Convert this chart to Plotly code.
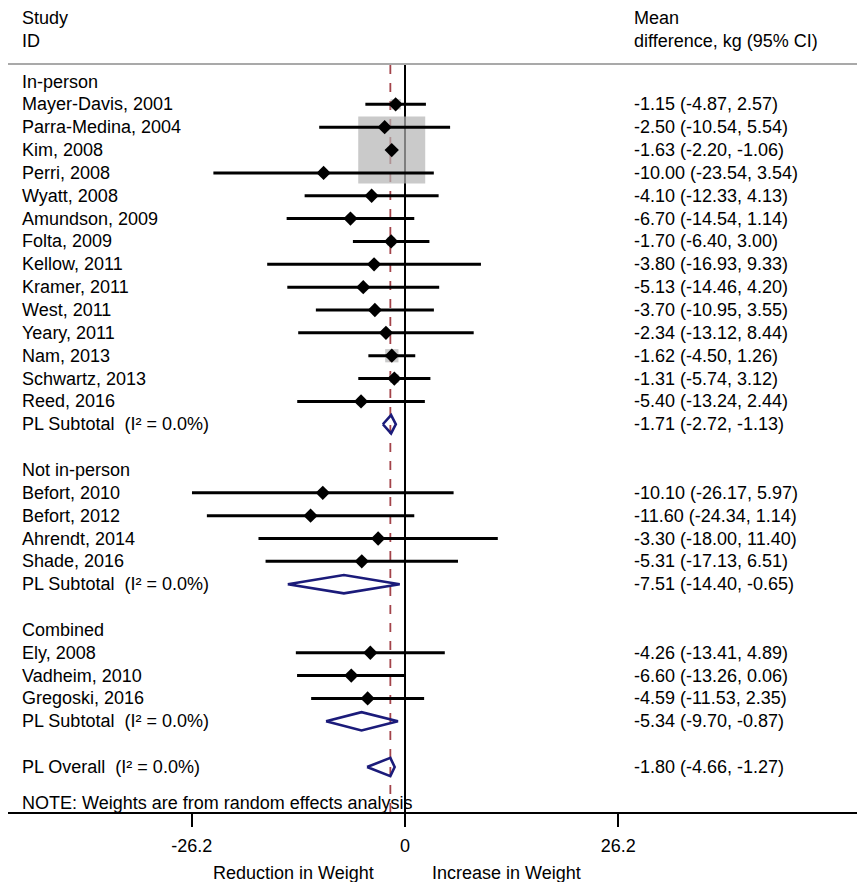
import numpy as np
import plotly.graph_objects as go

# ---------------- data ----------------
subgroup_names = ["In-person", "Not in-person", "Combined"]

in_person_studies = ["Mayer-Davis, 2001", "Parra-Medina, 2004", "Kim, 2008", "Perri, 2008",
                     "Wyatt, 2008", "Amundson, 2009", "Folta, 2009", "Kellow, 2011",
                     "Kramer, 2011", "West, 2011", "Yeary, 2011", "Nam, 2013",
                     "Schwartz, 2013", "Reed, 2016"]
in_person_md = [-1.15, -2.50, -1.63, -10.00, -4.10, -6.70, -1.70, -3.80, -5.13, -3.70, -2.34, -1.62, -1.31, -5.40]
in_person_lo = [-4.87, -10.54, -2.20, -23.54, -12.33, -14.54, -6.40, -16.93, -14.46, -10.95, -13.12, -4.50, -5.74, -13.24]
in_person_hi = [2.57, 5.54, -1.06, 3.54, 4.13, 1.14, 3.00, 9.33, 4.20, 3.55, 8.44, 1.26, 3.12, 2.44]
in_person_pooled = [-1.71, -2.72, -1.13]

not_in_person_studies = ["Befort, 2010", "Befort, 2012", "Ahrendt, 2014", "Shade, 2016"]
not_in_person_md = [-10.10, -11.60, -3.30, -5.31]
not_in_person_lo = [-26.17, -24.34, -18.00, -17.13]
not_in_person_hi = [5.97, 1.14, 11.40, 6.51]
not_in_person_pooled = [-7.51, -14.40, -0.65]

combined_studies = ["Ely, 2008", "Vadheim, 2010", "Gregoski, 2016"]
combined_md = [-4.26, -6.60, -4.59]
combined_lo = [-13.41, -13.26, -11.53]
combined_hi = [4.89, 0.06, 2.35]
combined_pooled = [-5.34, -9.70, -0.87]

overall_pooled = [-1.80, -4.66, -1.27]
i_squared = "0.0%"

tick_values = [-26.2, 0, 26.2]
tick_labels = ["-26.2", "0", "26.2"]

groups = [
    (subgroup_names[0], in_person_studies, in_person_md, in_person_lo, in_person_hi, in_person_pooled),
    (subgroup_names[1], not_in_person_studies, not_in_person_md, not_in_person_lo, not_in_person_hi, not_in_person_pooled),
    (subgroup_names[2], combined_studies, combined_md, combined_lo, combined_hi, combined_pooled),
]

# ---------------- geometry / style ----------------
# page body has an 8px default margin; figure is sized to fit inside it
OFF = 8
W, H = 865 - 2 * OFF, 890 - 2 * OFF
# plot area in page pixels
P_LEFT, P_RIGHT, P_TOP, P_BOT = 8, 857, 65, 812
ML, MR = P_LEFT - OFF, (W + OFF) - P_RIGHT
MT, MB = P_TOP - OFF, (H + OFF) - P_BOT
PX_PER_UNIT = 8.14
ZERO_PX = 405
ROW0_PX = 81.5
ROW_PX = 22.85
PLOT_W = P_RIGHT - P_LEFT
PLOT_H = P_BOT - P_TOP
x_range = [(P_LEFT - ZERO_PX) / PX_PER_UNIT, (P_RIGHT - ZERO_PX) / PX_PER_UNIT]
y_range = [(P_BOT - ROW0_PX) / ROW_PX, (P_TOP - ROW0_PX) / ROW_PX]

FONT = "Liberation Sans, Arial, sans-serif"
FS = 18
BOX_MAX_PX = 67
DIAMOND_H = 0.40
NAVY = "#1b1b7a"


def py(p):  # page pixel y -> paper y
    return (P_BOT - p) / PLOT_H


def px(p):  # page pixel x -> paper x
    return (p - P_LEFT) / PLOT_W


def fmt(e, l, h):
    return f"{e:.2f} ({l:.2f}, {h:.2f})"


# ---------------- build rows ----------------
label_rows = []
st_rows, st_md, st_lo, st_hi = [], [], [], []
pooled_rows = []
row = 0
for name, studies, md, lo, hi, pooled in groups:
    label_rows.append((row, name, ""))
    row += 1
    for s, e, l, h in zip(studies, md, lo, hi):
        label_rows.append((row, s, fmt(e, l, h)))
        st_rows.append(row); st_md.append(e); st_lo.append(l); st_hi.append(h)
        row += 1
    label_rows.append((row, f"PL Subtotal\u00a0 (I\u00b2 = {i_squared})", fmt(*pooled)))
    pooled_rows.append((row, *pooled))
    row += 2
label_rows.append((row, f"PL Overall\u00a0 (I\u00b2 = {i_squared})", fmt(*overall_pooled)))
pooled_rows.append((row, *overall_pooled))

# box sizes from inverse-variance weights (area proportional to weight)
se = (np.array(st_hi) - np.array(st_lo)) / 3.92
w = 1.0 / se ** 2
box_size = BOX_MAX_PX * np.sqrt(w / w.max())

fig = go.Figure()

fig.add_trace(go.Scatter(
    x=st_md, y=st_rows, mode="markers",
    marker=dict(symbol="square", size=box_size, color="#b3b3b3", line=dict(width=0)),
    hoverinfo="skip", showlegend=False))

cx, cy = [], []
for r, l, h in zip(st_rows, st_lo, st_hi):
    cx += [l, h, None]; cy += [r, r, None]
fig.add_trace(go.Scatter(x=cx, y=cy, mode="lines", line=dict(color="black", width=3),
                         hoverinfo="skip", showlegend=False))

fig.add_trace(go.Scatter(x=st_md, y=st_rows, mode="markers",
                         marker=dict(symbol="diamond", size=11, color="black"),
                         hoverinfo="skip", showlegend=False))

dx, dy = [], []
for r, e, l, h in pooled_rows:
    dx += [l, e, h, e, l, None]
    dy += [r, r - DIAMOND_H, r, r + DIAMOND_H, r, None]
fig.add_trace(go.Scatter(x=dx, y=dy, mode="lines", line=dict(color=NAVY, width=2.6),
                         hoverinfo="skip", showlegend=False))

shapes = [
    dict(type="line", xref="paper", yref="paper", x0=0, x1=1, y0=py(64), y1=py(64),
         line=dict(color="#a9a9a9", width=2)),
    dict(type="line", xref="x", yref="paper", x0=0, x1=0, y0=0, y1=1,
         line=dict(color="black", width=2), layer="below"),
    dict(type="line", xref="x", yref="paper", x0=overall_pooled[0], x1=overall_pooled[0], y0=0, y1=1,
         line=dict(color="#a3434a", width=1.8, dash="dash"), layer="below"),
]

ann = []
def text(x, y, t, xref="paper", yref="paper", xanchor="left", size=FS):
    ann.append(dict(x=x, y=y, xref=xref, yref=yref, text=t, showarrow=False,
                    xanchor=xanchor, yanchor="middle", font=dict(size=size, color="black", family=FONT)))

text(px(20), py(18), "Study")
text(px(20), py(41), "ID")
text(px(632), py(18), "Mean")
text(px(632), py(41), "difference, kg (95% CI)")

for r, lab, num in label_rows:
    text(px(20), r, lab, yref="y")
    if num:
        text(px(632), r, num, yref="y")

text(px(20), py(803), "NOTE: Weights are from random effects analysis")
text(px(293), py(873), "Reduction in Weight", xanchor="center")
text(px(507), py(873), "Increase in Weight", xanchor="center")

fig.update_layout(
    width=W, height=H,
    margin=dict(l=ML, r=MR, t=MT, b=MB, pad=0),
    paper_bgcolor="white", plot_bgcolor="white",
    font=dict(family=FONT, size=FS, color="black"),
    shapes=shapes, annotations=ann, showlegend=False,
    xaxis=dict(range=x_range, showgrid=False, zeroline=False, showline=True,
               linecolor="black", linewidth=2, ticks="outside", ticklen=13, tickwidth=2,
               tickcolor="black", tickvals=tick_values, ticktext=tick_labels,
               ticklabelstandoff=3,
               tickfont=dict(size=FS, color="black", family=FONT), fixedrange=True),
    yaxis=dict(range=y_range, visible=False, fixedrange=True),
)

fig.write_html("out.html")
